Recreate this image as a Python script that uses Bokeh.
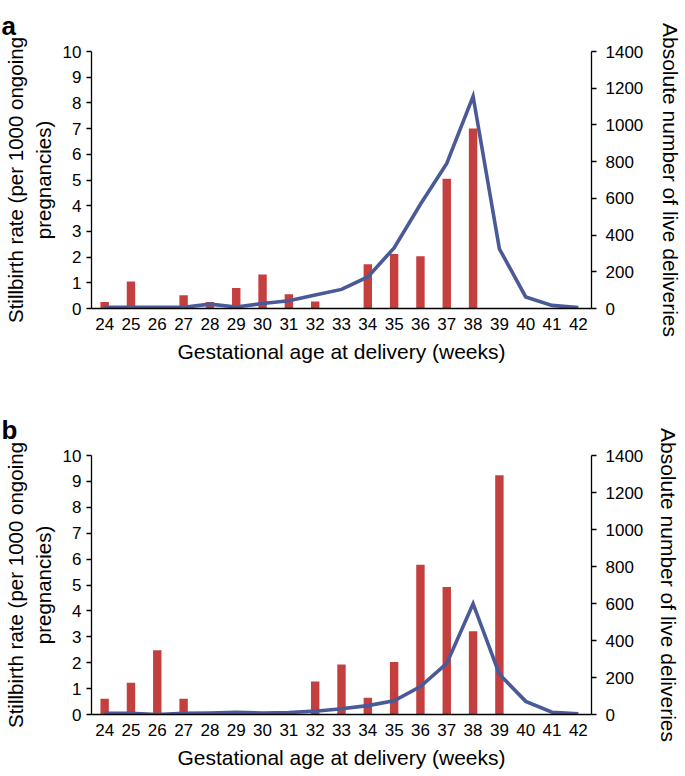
from bokeh.plotting import figure
from bokeh.models import FactorRange, Range1d, LinearAxis, FixedTicker
from bokeh.layouts import column
from bokeh.embed import file_html
from bokeh.resources import INLINE

weeks = [str(w) for w in range(24, 43)]

rate_a = [0.25, 1.05, 0, 0.52, 0.25, 0.8, 1.32, 0.55, 0.27, 0, 1.72, 2.12, 2.03, 5.05, 7.0, 0, 0, 0, 0]
deliv_a = [7, 7, 7, 7, 24, 8, 27, 42, 73, 104, 172, 330, 568, 790, 1156, 325, 63, 17, 5]

rate_b = [0.61, 1.23, 2.48, 0.61, 0, 0, 0, 0, 1.27, 1.93, 0.65, 2.03, 5.78, 4.92, 3.21, 9.24, 0, 0, 0]
deliv_b = [6, 6, 0, 6, 8, 12, 8, 11, 18, 31, 48, 74, 151, 276, 599, 218, 71, 12, 4]

left_ticks = list(range(0, 11))
right_ticks = list(range(0, 1401, 200))

left_title = "Stillbirth rate (per 1000 ongoing\npregnancies)"
right_title = "Absolute number of live deliveries"
x_title = "Gestational age at delivery (weeks)"

RED = "#C4403F"
BLUE = "#4A5A98"
FONT = "Liberation Sans"
TICK_SIZE = "17px"
TITLE_SIZE = "21px"
LEFT_TITLE_SIZE = "20.5px"


def style_axis(ax):
    ax.axis_line_color = "black"
    ax.axis_line_width = 1.3
    ax.major_tick_line_color = "black"
    ax.major_tick_line_width = 1.3
    ax.minor_tick_line_color = None
    ax.major_tick_in = 0
    ax.major_tick_out = 5
    ax.major_label_text_font = FONT
    ax.major_label_text_font_size = TICK_SIZE
    ax.major_label_text_color = "black"
    ax.axis_label_text_font = FONT
    ax.axis_label_text_font_size = TITLE_SIZE
    ax.axis_label_text_font_style = "normal"
    ax.axis_label_text_color = "black"


def make_panel(letter, rates, deliv, height, top, bottom, left, right, r_standoff):
    p = figure(
        x_range=FactorRange(factors=weeks, range_padding=0),
        y_range=Range1d(0, 10),
        width=685, height=height,
        min_border_left=left, min_border_right=right,
        min_border_top=top, min_border_bottom=bottom,
        output_backend="svg", toolbar_location=None,
        background_fill_color="white", border_fill_color="white",
    )
    p.outline_line_color = None
    p.xgrid.visible = False
    p.ygrid.visible = False
    p.extra_y_ranges = {"right": Range1d(0, 1400)}

    p.title.text = letter
    p.title.align = "left"
    p.title.vertical_align = "top"
    p.title.offset = -left + 1
    p.title.standoff = top - 33
    p.title.text_font = FONT
    p.title.text_font_size = "26px"
    p.title.text_font_style = "bold"
    p.title.text_color = "black"

    p.vbar(x=weeks, top=rates, width=0.32, fill_color=RED, line_color=None)
    p.line(x=weeks, y=deliv, y_range_name="right", line_width=3.6,
           line_color=BLUE, line_join="miter")

    xa = p.xaxis[0]
    style_axis(xa)
    xa.major_tick_out = 0
    xa.major_tick_line_color = None
    xa.major_label_standoff = 9
    xa.axis_label = x_title
    xa.axis_label_standoff = 7

    ya = p.yaxis[0]
    style_axis(ya)
    ya.ticker = FixedTicker(ticks=left_ticks)
    ya.major_label_standoff = 5
    ya.axis_label = left_title
    ya.axis_label_text_font_size = LEFT_TITLE_SIZE
    ya.axis_label_standoff = 5

    yr = LinearAxis(y_range_name="right", ticker=FixedTicker(ticks=right_ticks))
    style_axis(yr)
    yr.major_label_standoff = 9
    yr.axis_label = right_title
    yr.axis_label_standoff = r_standoff
    p.add_layout(yr, "right")
    return p


pa = make_panel("a", rate_a, deliv_a, 405, 51, 97, 91, 91, 13)
pb = make_panel("b", rate_b, deliv_b, 371, 50, 62, 91, 83, 11)

layout = column(pa, pb)
open("out.html", "w").write(file_html(layout, INLINE))
